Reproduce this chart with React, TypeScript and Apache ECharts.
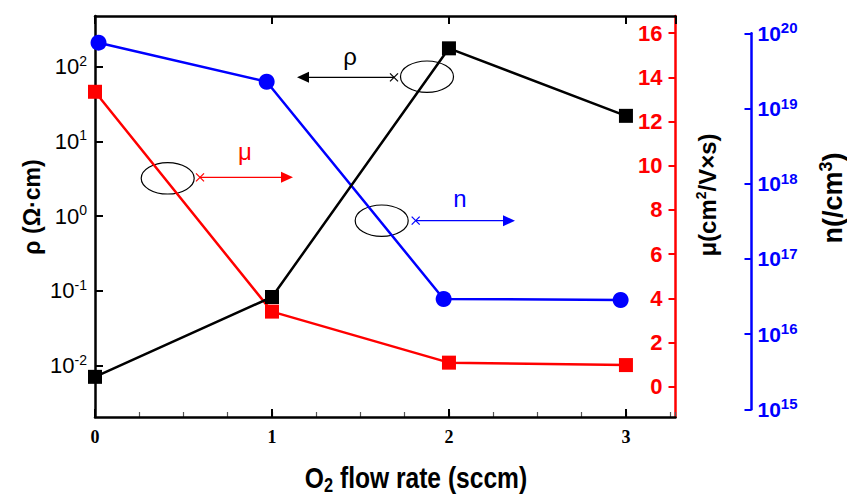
import React, { useEffect, useRef } from 'react';
import * as echarts from 'echarts';

// ---- data ----
const flowRate = [0, 1, 2, 3];
const rhoValues = [0.0071, 0.083, 176, 22];
const muValues = [13.35, 3.4, 1.09, 0.98];
const nFlowRate = [0.02, 0.97, 1.97, 2.97];
const nValues = [7.5e19, 2.27e19, 2.93e16, 2.84e16];
const xTickLabels = ['0', '1', '2', '3'];

const SANS = 'Liberation Sans';
const SERIF = 'Liberation Serif';
const RED = '#ff0000';
const BLUE = '#0000ff';

const supFormatter = (v: number) => {
  const e = Math.round(Math.log10(v));
  return `{b|10}{s|${e}}`;
};

function arrow(x0: number, y: number, tip: number, color: string) {
  const dir = tip > x0 ? 1 : -1;
  const hl = 12;
  const hw = 5.5;
  return [
    { type: 'line', shape: { x1: x0, y1: y, x2: tip - dir * hl, y2: y }, style: { stroke: color, lineWidth: 1.3 } },
    {
      type: 'polygon',
      shape: { points: [[tip, y], [tip - dir * hl, y - hw], [tip - dir * hl, y + hw]] },
      style: { fill: color },
    },
    { type: 'line', shape: { x1: x0 - 4, y1: y - 4, x2: x0 + 4, y2: y + 4 }, style: { stroke: color, lineWidth: 1.2 } },
    { type: 'line', shape: { x1: x0 - 4, y1: y + 4, x2: x0 + 4, y2: y - 4 }, style: { stroke: color, lineWidth: 1.2 } },
  ];
}

function ellipse(cx: number, cy: number) {
  return {
    type: 'ellipse',
    shape: { cx, cy, rx: 26.5, ry: 15.7 },
    style: { fill: 'none', stroke: '#000', lineWidth: 1.2 },
  };
}

export default function App() {
  const ref = useRef<HTMLDivElement>(null);

  useEffect(() => {
    if (!ref.current) return;
    const chart = echarts.init(ref.current, undefined, { renderer: 'svg' });

    const gridLeft = 95;
    const gridWidth = 580.5;

    const option: any = {
      animation: false,
      backgroundColor: '#fff',
      grid: [
        { left: gridLeft, top: 16, width: gridWidth, height: 401, outerBoundsMode: 'none' },
        { left: gridLeft, top: 33.3, width: gridWidth, height: 376, outerBoundsMode: 'none' },
        { left: gridLeft, top: 16, width: gridWidth, height: 401, outerBoundsMode: 'none' },
      ],
      xAxis: [
        {
          type: 'value',
          gridIndex: 0,
          position: 'bottom',
          min: 0,
          max: 3.28,
          interval: 1,
          axisLine: { show: true, onZero: false, lineStyle: { color: '#000', width: 2.5 } },
          axisTick: { show: true, inside: true, length: 8, lineStyle: { color: '#000', width: 2 } },
          splitLine: { show: false },
          axisLabel: {
            show: true,
            margin: 11,
            showMaxLabel: false,
            color: '#000',
            fontFamily: SERIF,
            fontWeight: 'bold',
            fontSize: 18,
            formatter: (v: number) => {
              const i = flowRate.indexOf(Math.round(v));
              return i >= 0 && Math.abs(v - Math.round(v)) < 1e-6 ? xTickLabels[i] : '';
            },
          },
          z: 3,
        },
        {
          type: 'value',
          gridIndex: 0,
          position: 'top',
          min: 0,
          max: 3.28,
          interval: 1,
          axisLine: { show: true, onZero: false, lineStyle: { color: '#000', width: 2.5 } },
          axisTick: { show: true, inside: true, length: 8, lineStyle: { color: '#000', width: 2 } },
          axisLabel: { show: false },
          splitLine: { show: false },
        },
        {
          type: 'value',
          gridIndex: 1,
          min: 0,
          max: 3.28,
          show: false,
          axisLine: { onZero: false },
        },
        {
          type: 'value',
          gridIndex: 2,
          position: 'bottom',
          min: 0,
          max: 3.28,
          interval: 0.25,
          axisLine: { show: false, onZero: false },
          axisTick: { show: true, inside: true, length: 5, lineStyle: { color: '#555', width: 1.2 } },
          axisLabel: { show: false },
          splitLine: { show: false },
        },
      ],
      yAxis: [
        {
          type: 'log',
          gridIndex: 0,
          position: 'left',
          logBase: 10,
          min: Math.pow(10, -2.686),
          max: Math.pow(10, 2.678),
          axisLine: { show: true, onZero: false, lineStyle: { color: '#000', width: 2.5 } },
          axisTick: { show: true, inside: true, length: 8, lineStyle: { color: '#000', width: 2 } },
          splitLine: { show: false },
          minorTick: { show: false },
          axisLabel: {
            margin: 8,
            showMinLabel: false,
            showMaxLabel: false,
            formatter: supFormatter,
            rich: {
              b: { fontSize: 22, fontFamily: SANS, color: '#000', lineHeight: 26 },
              s: { fontSize: 14, fontFamily: SANS, color: '#000', lineHeight: 10, verticalAlign: 'top' },
            },
          },
        },
        {
          type: 'value',
          gridIndex: 0,
          position: 'right',
          min: -1.37,
          max: 16.78,
          splitNumber: 9,
          axisLine: { show: true, onZero: false, lineStyle: { color: RED, width: 2.5 } },
          axisTick: { show: true, inside: true, length: 7, lineStyle: { color: RED, width: 2 } },
          splitLine: { show: false },
          axisLabel: {
            inside: true,
            margin: 13,
            showMinLabel: false,
            showMaxLabel: false,
            color: RED,
            fontFamily: SANS,
            fontWeight: 'bold',
            fontSize: 22,
          },
        },
        {
          type: 'log',
          gridIndex: 1,
          position: 'right',
          offset: 76,
          logBase: 10,
          min: 1e15,
          max: 1e20,
          axisLine: { show: true, onZero: false, lineStyle: { color: BLUE, width: 2.5 } },
          axisTick: { show: true, inside: true, length: 7, lineStyle: { color: BLUE, width: 2 } },
          splitLine: { show: false },
          minorTick: { show: false },
          axisLabel: {
            margin: 6,
            formatter: supFormatter,
            rich: {
              b: { fontSize: 21, fontFamily: SANS, fontWeight: 'bold', color: BLUE, lineHeight: 26 },
              s: { fontSize: 15, fontFamily: SANS, fontWeight: 'bold', color: BLUE, lineHeight: 10, verticalAlign: 'top' },
            },
          },
        },
        {
          type: 'value',
          gridIndex: 2,
          min: 0,
          max: 1,
          show: false,
          axisLine: { onZero: false },
        },
      ],
      series: [
        {
          name: 'n',
          type: 'line',
          xAxisIndex: 2,
          yAxisIndex: 2,
          data: nFlowRate.map((x, i) => [x, nValues[i]]),
          symbol: 'circle',
          symbolSize: 16,
          lineStyle: { color: BLUE, width: 2.5 },
          itemStyle: { color: BLUE },
          z: 3,
        },
        {
          name: 'mu',
          type: 'line',
          xAxisIndex: 0,
          yAxisIndex: 1,
          data: flowRate.map((x, i) => [x, muValues[i]]),
          symbol: 'rect',
          symbolSize: 14,
          lineStyle: { color: RED, width: 2.5 },
          itemStyle: { color: RED },
          z: 4,
        },
        {
          name: 'rho',
          type: 'line',
          xAxisIndex: 0,
          yAxisIndex: 0,
          data: flowRate.map((x, i) => [x, rhoValues[i]]),
          symbol: 'rect',
          symbolSize: 14,
          lineStyle: { color: '#000', width: 2.5 },
          itemStyle: { color: '#000' },
          z: 5,
        },
      ],
      graphic: [
        {
          type: 'text',
          x: 32,
          y: 207,
          rotation: Math.PI / 2,
          style: {
            text: 'ρ (Ω·cm)',
            fontFamily: SANS,
            fontWeight: 'bold',
            fontSize: 23,
            fill: '#000',
            align: 'center',
            verticalAlign: 'middle',
          },
        },
        {
          type: 'text',
          x: 707,
          y: 195,
          rotation: Math.PI / 2,
          style: {
            text: '{m|μ(cm}{s|2}{m|/V×s)}',
            align: 'center',
            verticalAlign: 'middle',
            rich: {
              m: { fontFamily: SANS, fontWeight: 'bold', fontSize: 24, fill: '#000', lineHeight: 26 },
              s: { fontFamily: SANS, fontWeight: 'bold', fontSize: 14, fill: '#000', lineHeight: 12, verticalAlign: 'top' },
            },
          },
        },
        {
          type: 'text',
          x: 833,
          y: 198,
          rotation: Math.PI / 2,
          style: {
            text: '{m|n(/cm}{s|3}{m|)}',
            align: 'center',
            verticalAlign: 'middle',
            rich: {
              m: { fontFamily: SANS, fontWeight: 'bold', fontSize: 27, fill: '#000', lineHeight: 32 },
              s: { fontFamily: SANS, fontWeight: 'bold', fontSize: 18, fill: '#000', lineHeight: 14, verticalAlign: 'top' },
            },
          },
        },
        {
          type: 'text',
          x: 416,
          y: 478,
          scaleX: 0.82,
          style: {
            text: '{m|O}{s|2}{m| flow rate (sccm)}',
            align: 'center',
            verticalAlign: 'middle',
            rich: {
              m: { fontFamily: SANS, fontWeight: 'bold', fontSize: 30, fill: '#000', lineHeight: 34 },
              s: { fontFamily: SANS, fontWeight: 'bold', fontSize: 20, fill: '#000', lineHeight: 20, verticalAlign: 'bottom' },
            },
          },
        },
        // annotation labels
        { type: 'text', x: 350, y: 56, style: { text: 'ρ', fontFamily: SANS, fontSize: 24, fill: '#000', align: 'center', verticalAlign: 'middle' } },
        { type: 'text', x: 245, y: 151, style: { text: 'μ', fontFamily: SANS, fontSize: 24, fill: RED, align: 'center', verticalAlign: 'middle' } },
        { type: 'text', x: 460, y: 198, style: { text: 'n', fontFamily: SANS, fontSize: 24, fill: BLUE, align: 'center', verticalAlign: 'middle' } },
        ellipse(427, 76.7),
        ellipse(167.7, 178.3),
        ellipse(381.7, 220.7),
        ...arrow(394, 77.3, 297, '#000'),
        ...arrow(200, 177.3, 293, RED),
        ...arrow(415.7, 220.7, 515, BLUE),
      ],
    };

    chart.setOption(option);
    return () => chart.dispose();
  }, []);

  return (
    <div
      ref={ref}
      style={{ position: 'fixed', left: 0, top: 0, width: 847, height: 500, background: '#fff' }}
    />
  );
}
